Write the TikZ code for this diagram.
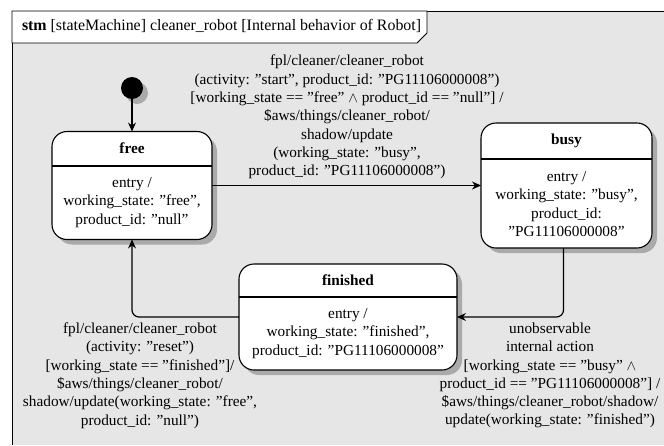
\documentclass[tikz,border=0pt]{standalone}
\usepackage{fontspec}
\setmainfont{Liberation Serif}
\usetikzlibrary{arrows.meta}
\definecolor{shadowgray}{RGB}{170,170,170}
\definecolor{framegray}{RGB}{230,230,230}
\begin{document}
\begin{tikzpicture}[x=1pt,y=-1pt,
  every node/.style={font=\fontsize{15.3}{18.3}\selectfont, inner sep=0pt, outer sep=0pt},
  shadowfill/.style={fill=shadowgray},
  state/.style={draw, fill=white, rounded corners=15pt, line width=1.1pt},
  stitle/.style={font=\fontsize{15.3}{18.3}\selectfont\bfseries},
  body/.style={align=center},
  lbl/.style={align=center},
  conn/.style={draw, line width=1.2pt, rounded corners=7pt, -{Stealth[length=9pt,width=8pt,inset=3pt]}},
  divider/.style={draw, line width=1.1pt},
  framefill/.style={fill=framegray},
  frameline/.style={draw, line width=0.9pt}
]
\useasboundingbox (0,0) rectangle (664,445);
% frame
\fill[framefill] (12,11) rectangle (664,445);
\draw[frameline] (12,445) -- (12,11) -- (664,11);
\draw[frameline, fill=white] (12,11) -- (427,11) -- (427,33) -- (417,43) -- (12,43) -- cycle;
\node[anchor=base west, font=\fontsize{15.9}{18}\selectfont] (title) at (22,30.5) {\textbf{stm} [stateMachine] cleaner\_robot [Internal behavior of Robot]};

% shadows
\fill[shadowfill] (137,93) circle[radius=11];
\fill[shadowfill, rounded corners=15] (57,136.5) rectangle (217,244.5);
\fill[shadowfill, rounded corners=15] (486,128) rectangle (657,253);
\fill[shadowfill, rounded corners=15] (244,269) rectangle (462,375);

% initial
\node[circle, fill=black, minimum size=22pt] (init) at (132,88) {};

% states
\node[state, minimum width=160pt, minimum height=108pt] (free) at (132,185.5) {};
\draw[divider] ([yshift=-34.5pt]free.north west) -- ([yshift=-34.5pt]free.north east);
\node[stitle] (freet) at (132,148.5) {free};
\node[body] (freeb) at (132,202.5) {entry /\\working\_state: ”free”,\\product\_id: ”null”};

\node[state, minimum width=171pt, minimum height=125pt] (busy) at (566.5,185.5) {};
\draw[divider] ([yshift=-36pt]busy.north west) -- ([yshift=-36pt]busy.north east);
\node[stitle] (busyt) at (566.5,141) {busy};
\node[body] (busyb) at (566.5,204) {entry /\\working\_state: ”busy”,\\product\_id:\\”PG11106000008”};

\node[state, minimum width=218pt, minimum height=106pt] (finished) at (348,317) {};
\draw[divider] ([yshift=-33pt]finished.north west) -- ([yshift=-33pt]finished.north east);
\node[stitle] (finishedt) at (348,280.5) {finished};
\node[body] (finishedb) at (348,333.5) {entry /\\working\_state: ”finished”,\\product\_id: ”PG11106000008”};

% transitions
\draw[conn] (init) -- (free);
\draw[conn] (free) -- (busy);
\draw[conn] ([xshift=-3pt]busy.south) |- (finished.east);
\draw[conn] (finished.west) -| (free.south);

% labels
\node[lbl] (l1) at (347,117) {fpl/cleaner/cleaner\_robot\\(activity: ”start”, product\_id: ”PG11106000008”)\\{}[working\_state == ”free” $\wedge$ product\_id == ”null”] /\\\$aws/things/cleaner\_robot/\\shadow/update\\(working\_state: ”busy”,\\product\_id: ”PG11106000008”)};
\node[lbl] (l2) at (550,375.5) {unobservable\\internal action\\{}[working\_state == ”busy” $\wedge$\\product\_id == ”PG11106000008”] /\\\$aws/things/cleaner\_robot/shadow/\\update(working\_state: ”finished”)};
\node[lbl] (l3) at (140,375.5) {fpl/cleaner/cleaner\_robot\\(activity: ”reset”)\\{}[working\_state == ”finished”]/\\\$aws/things/cleaner\_robot/\\shadow/update(working\_state: ”free”,\\product\_id: ”null”)};
\end{tikzpicture}
\end{document}
